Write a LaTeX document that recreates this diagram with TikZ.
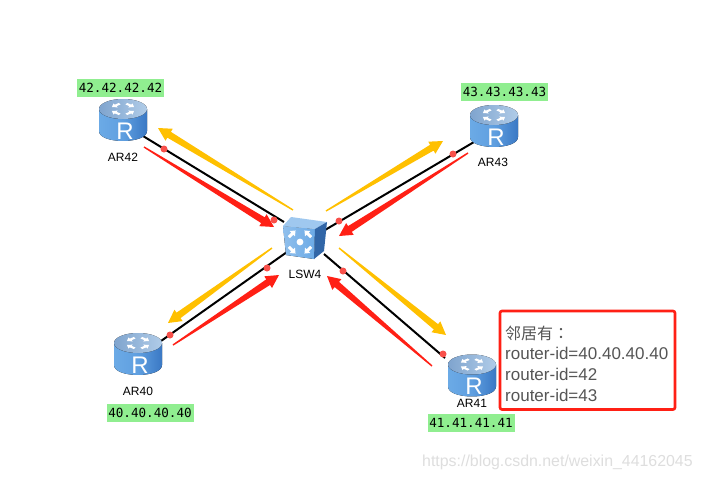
\documentclass[tikz,border=0pt]{standalone}
\usepackage{fontspec}
\setmainfont{Liberation Sans}
\newfontfamily\cjkfont{Noto Sans CJK SC}
\newfontfamily\cjkcolon{Noto Sans CJK TC}
\newfontfamily\ipfont{DejaVu Sans Mono}
\usetikzlibrary{calc}
\definecolor{arrowred}{HTML}{FF2015}
\definecolor{arroworange}{HTML}{FFC000}
\definecolor{dotred}{HTML}{F8504A}
\definecolor{ipgreen}{HTML}{90EE90}
\definecolor{boxtext}{HTML}{555555}
\definecolor{bodyL}{HTML}{6BAAE6}
\definecolor{bodyM}{HTML}{5F9FE0}
\definecolor{bodyR}{HTML}{3A78C4}
\definecolor{topL}{HTML}{7FA4CE}
\definecolor{topR}{HTML}{B0CCE8}
\tikzset{
  x=1pt,y=-1pt,
  iplabel/.style={fill=ipgreen,inner sep=0pt,minimum width=87pt,minimum height=18pt,font=\ipfont\fontsize{12.6}{12.6}\selectfont,text=black},
  devlabel/.style={inner sep=0pt,font=\fontsize{12}{12}\selectfont,text=black},
  link/.style={draw=black,line width=2pt},
  portdot/.style={circle,fill=dotred,inner sep=0pt,minimum size=7pt},
  hub/.style={inner sep=0pt,minimum width=43pt,minimum height=42pt},
  rtr/.style={inner sep=0pt,minimum width=48pt,minimum height=42pt},
}
% tapered arrow between named coordinates: from, to, colour
\newcommand\taper[3]{%
  \coordinate (hb) at ($(#2)!13pt!(#1)$);
  \fill[#3] ($(#1)!.7pt!90:(#2)$) -- ($(hb)!3.4pt!90:(#2)$) -- ($(hb)!7pt!90:(#2)$) -- (#2)
     -- ($(hb)!7pt!-90:(#2)$) -- ($(hb)!3.4pt!-90:(#2)$) -- ($(#1)!.7pt!-90:(#2)$) -- cycle;
}
% small white arrow, local coordinates
\newcommand\rarrow[3]{%
  \fill[white,shift={(#1,#2)},rotate=#3] (-4.5,-1.5) -- (.4,-1.5) -- (.4,-3.8) -- (5,0) -- (.4,3.8) -- (.4,1.5) -- (-4.5,1.5) -- cycle;
}
% router: name, centre x, top y
\newcommand\router[3]{%
  \node[rtr] (#1) at (#2,#3+21) {};
  \begin{scope}[shift={(#2,#3)}]
    \fill[left color=bodyL,right color=bodyR,middle color=bodyM] (-24,10) -- (-24,32) .. controls (-24,45.3) and (24,45.3) .. (24,32) -- (24,10) -- cycle;
    \fill[left color=topL,right color=topR] (0,10) ellipse[x radius=24,y radius=10];
    \begin{scope}[shift={(0,10)},yscale=.62]
      \rarrow{-7}{-6}{215}\rarrow{7}{-6}{-35}\rarrow{-7}{6}{145}\rarrow{7}{6}{35}
    \end{scope}
    \node[inner sep=0pt,text=white,font=\fontsize{24}{24}\selectfont] at (2,32) {R};
  \end{scope}
}
\begin{document}
\begin{tikzpicture}
\useasboundingbox (0,0) rectangle (702,480);
\fill[white] (0,0) rectangle (702,480);

% named anchor coordinates
\coordinate (a42s) at (143,136); \coordinate (s42) at (284,222);
\coordinate (a43s) at (474,142); \coordinate (s43) at (325,230);
\coordinate (a40s) at (161,341); \coordinate (s40) at (287,252);
\coordinate (a41s) at (445,358); \coordinate (s41) at (324,254);

\draw[link] (a42s) -- (s42);
\draw[link] (a43s) -- (s43);
\draw[link] (a40s) -- (s40);
\draw[link] (a41s) -- (s41);

% routers
\router{AR42}{123}{99}
\router{AR43}{494}{105}
\router{AR40}{138}{333}
\router{AR41}{472}{354.5}

% switch
\node[hub] (LSW4) at (304.5,239) {};
\fill[left color=bodyL!75!white,right color=bodyL] (283,226) -- (315,229) -- (314,259) -- (286,255) -- cycle;
\fill[bodyL!65!white] (283,226) -- (291,217) -- (327,222) -- (315,229) -- cycle;
\fill[bodyR!85!black] (315,229) -- (327,222) -- (324,251) -- (314,259) -- cycle;
\begin{scope}[shift={(300,242)}]
  \fill[white] (0,0) circle (3.4);
  \rarrow{-8}{-8}{45}\rarrow{8}{-8}{135}\rarrow{-8}{8}{-45}\rarrow{8}{8}{225}
\end{scope}

% tapered arrows
\coordinate (o42t) at (293,210); \coordinate (o42h) at (158,128);
\coordinate (r42t) at (144,147); \coordinate (r42h) at (274,227);
\coordinate (o43t) at (326,211); \coordinate (o43h) at (443,141);
\coordinate (r43t) at (468,153); \coordinate (r43h) at (339,236);
\coordinate (o40t) at (272,248); \coordinate (o40h) at (168,323);
\coordinate (r40t) at (173,345); \coordinate (r40h) at (279,275);
\coordinate (o41t) at (339,248); \coordinate (o41h) at (446,335);
\coordinate (r41t) at (432,366); \coordinate (r41h) at (327,276);
\taper{o42t}{o42h}{arroworange}
\taper{r42t}{r42h}{arrowred}
\taper{o43t}{o43h}{arroworange}
\taper{r43t}{r43h}{arrowred}
\taper{o40t}{o40h}{arroworange}
\taper{r40t}{r40h}{arrowred}
\taper{o41t}{o41h}{arroworange}
\taper{r41t}{r41h}{arrowred}

% port dots
\node[portdot] (d1) at (164,149) {};
\node[portdot] (d2) at (274,220) {};
\node[portdot] (d3) at (453,154) {};
\node[portdot] (d4) at (339,221) {};
\node[portdot] (d5) at (170,335) {};
\node[portdot] (d6) at (267,268) {};
\node[portdot] (d7) at (443,354) {};
\node[portdot] (d8) at (343,271) {};

% device labels
\node[devlabel] (lAR42) at (123,157) {AR42};
\node[devlabel] (lAR43) at (493,162) {AR43};
\node[devlabel] (lAR40) at (138,391) {AR40};
\node[devlabel] (lAR41) at (472,403) {AR41};
\node[devlabel] (lLSW4) at (305,274) {LSW4};

% IP labels
\node[iplabel] (ip42) at (120.5,88) {42.42.42.42};
\node[iplabel] (ip43) at (504.5,91.5) {43.43.43.43};
\node[iplabel] (ip40) at (150,413) {40.40.40.40};
\node[iplabel] (ip41) at (471,423) {41.41.41.41};

% neighbour box
\draw[arrowred,line width=2.6pt,rounded corners=2pt] (500,311) rectangle (675,409.5);
\node[anchor=base west,inner sep=0pt,text=boxtext,font=\cjkfont\fontsize{16}{16}\selectfont] (n0) at (505,339) {邻居有{\cjkcolon ：}};
\node[anchor=base west,inner sep=0pt,text=boxtext,font=\fontsize{17}{17}\selectfont] (n1) at (505,359) {router-id=40.40.40.40};
\node[anchor=base west,inner sep=0pt,text=boxtext,font=\fontsize{17}{17}\selectfont] (n2) at (505,380) {router-id=42};
\node[anchor=base west,inner sep=0pt,text=boxtext,font=\fontsize{17}{17}\selectfont] (n3) at (505,401) {router-id=43};

% watermark
\node[anchor=base west,inner sep=0pt,text=black!13,font=\fontsize{15.9}{16}\selectfont] (wm) at (422,466) {https://blog.csdn.net/weixin\_44162045};
\end{tikzpicture}
\end{document}
